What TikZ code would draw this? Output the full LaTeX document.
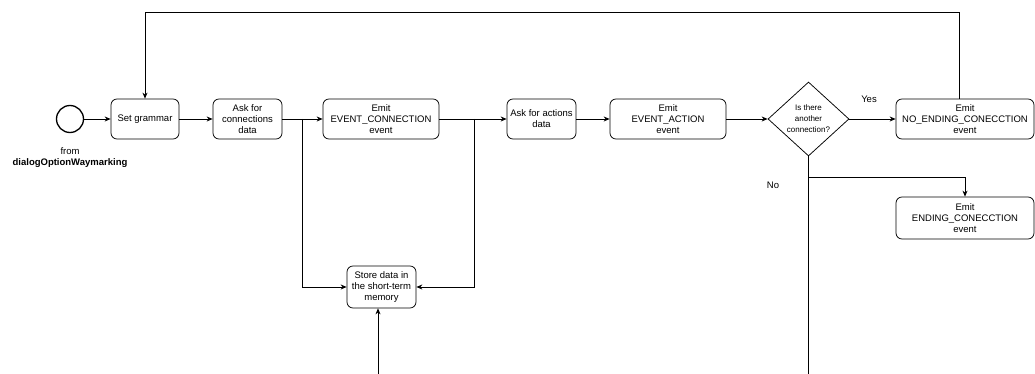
\documentclass[tikz,border=0pt]{standalone}
\usepackage{fontspec}
\setmainfont{Liberation Sans}
\usetikzlibrary{shapes.geometric,arrows.meta}

\tikzset{
	task/.style = {draw, rounded corners=6pt, align=center, inner sep=1pt, minimum height=40pt, line width=0.75pt, font=\fontsize{9.5}{11}\selectfont},
	arr/.style = {line width=0.75pt, -{Stealth[length=6pt,width=5pt]}},
	lbl/.style = {font=\fontsize{9.5}{11}\selectfont, align=center}
}

\begin{document}
	\begin{tikzpicture}[x=1pt, y=-1pt]
		\useasboundingbox (0,0) rectangle (1035,374);

		% main row
		\node[circle, draw, line width=1.3pt, minimum size=27pt, inner sep=0pt] (start) at (70,119) {};
		\node[lbl] (startlbl) at (70,158) {from\\\textbf{dialogOptionWaymarking}};
		\node[task, minimum width=68pt] (setg) at (145,119) {Set grammar};
		\node[task, minimum width=69pt] (askc) at (247.5,119) {Ask for\\connections\\data};
		\node[task, minimum width=116pt] (emitc) at (381,119) {Emit\\EVENT\_CONNECTION\\event};
		\node[task, minimum width=69pt] (aska) at (541.5,119) {Ask for actions\\data};
		\node[task, minimum width=116pt] (emita) at (668,119) {Emit\\EVENT\_ACTION\\event};
		\node[diamond, draw, line width=0.75pt, inner sep=0pt, minimum width=81pt, minimum height=74pt, align=center, font=\fontsize{8}{11}\selectfont] (dec) at (808.5,119) {Is there\\another\\connection?};
		\node[task, minimum width=138pt] (noend) at (965,119) {Emit\\NO\_ENDING\_CONECCTION\\event};
		\node[task, minimum width=138pt, minimum height=42pt] (endc) at (965,218) {Emit\\ENDING\_CONECCTION\\event};
		\node[task, minimum width=69pt, minimum height=42pt] (store) at (381.5,287) {Store data in\\the short-term\\memory};
		\node[lbl] (yes) at (869,99) {Yes};
		\node[lbl] (no) at (773,185) {No};

		\coordinate (j1) at (302,119);
		\coordinate (j2) at (474,119);
		\coordinate (j3) at (808.5,177);
		\coordinate (in1) at (378,374);
		\coordinate (out1) at (808.5,374);

		\draw[arr] (start) -- (setg);
		\draw[arr] (setg) -- (askc);
		\draw[arr] (askc) -- (emitc);
		\draw[arr] (emitc) -- (aska);
		\draw[arr] (aska) -- (emita);
		\draw[arr] (emita) -- (dec);
		\draw[arr] (dec) -- (noend);
		\draw[arr] ([xshift=-6pt]noend.north) -- ++(0,-86) -| (setg.north);

		% to the memory
		\draw[arr] (j1) |- (store.west);
		\draw[arr] (j2) |- (store.east);
		\draw[arr] (in1) -- (in1 |- store.south);

		\draw[line width=0.75pt] (dec.south) -- (out1);
		\draw[arr] (j3) -| (endc.north);
	\end{tikzpicture}
\end{document}
